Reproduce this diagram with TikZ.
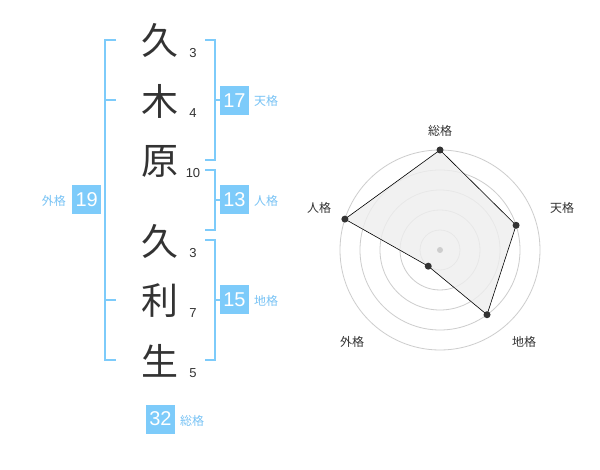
\documentclass[tikz,border=0pt]{standalone}
\usepackage{fontspec}
\newfontfamily\cjk{Noto Sans CJK JP}
\newfontfamily\digits{Liberation Sans}
\definecolor{kblue}{RGB}{125,203,250}
\definecolor{ktext}{RGB}{120,195,245}
\definecolor{kdark}{RGB}{51,51,51}
\definecolor{kgrid}{RGB}{205,205,205}
\definecolor{kfill}{RGB}{238,238,238}
\tikzset{
  kanji/.style={font=\cjk\fontsize{37}{37}\selectfont, text=kdark, inner sep=0pt},
  strokes/.style={font=\digits\fontsize{13}{13}\selectfont, text=kdark, inner sep=0pt},
  bracket/.style={draw=kblue, line width=2pt},
  numbox/.style={fill=kblue, text=white, font=\digits\fontsize{20}{20}\selectfont, minimum width=29pt, minimum height=29pt, inner sep=0pt},
  kaku/.style={font=\cjk\fontsize{12}{12}\selectfont, text=ktext, inner sep=0pt},
  radlabel/.style={font=\cjk\fontsize{12}{12}\selectfont, text=kdark, inner sep=0pt},
  grid/.style={draw=kgrid, line width=0.8pt},
  dot/.style={circle, fill=kdark, minimum size=7pt, inner sep=0pt},
}
\begin{document}
\begin{tikzpicture}[x=1pt,y=-1pt]
\useasboundingbox[fill=white] (0,0) rectangle (600,470);
% name characters
\node[kanji] (c1) at (160,40) {久};
\node[kanji] (c2) at (160,101) {木};
\node[kanji] (c3) at (160,161) {原};
\node[kanji] (c4) at (160,241) {久};
\node[kanji] (c5) at (160,301) {利};
\node[kanji] (c6) at (160,361) {生};
% strokes
\node[strokes] (s1) at (193,53) {3};
\node[strokes] (s2) at (193,113) {4};
\node[strokes] (s3) at (193,173) {10};
\node[strokes] (s4) at (193,253) {3};
\node[strokes] (s5) at (193,313) {7};
\node[strokes] (s6) at (193,373) {5};
% brackets
\draw[bracket] (116,40) -- (105,40) -- (105,360) -- (116,360);
\draw[bracket] (105,100) -- (116,100);
\draw[bracket] (105,300) -- (116,300);
\draw[bracket] (205,40) -- (215,40) -- (215,160) -- (205,160);
\draw[bracket] (215,100) -- (220,100);
\draw[bracket] (205,170) -- (215,170) -- (215,230) -- (205,230);
\draw[bracket] (215,200) -- (220,200);
\draw[bracket] (205,240) -- (215,240) -- (215,360) -- (205,360);
\draw[bracket] (215,300) -- (220,300);
% boxes
\node[numbox] (b17) at (234.5,100.5) {17};
\node[kaku, anchor=west] (t17) at (254,101) {天格};
\node[numbox] (b13) at (234.5,200) {13};
\node[kaku, anchor=west] (t13) at (254,201) {人格};
\node[numbox] (b15) at (234.5,300) {15};
\node[kaku, anchor=west] (t15) at (254,301) {地格};
\node[numbox] (b19) at (86.7,200) {19};
\node[kaku, anchor=east] (t19) at (66,201) {外格};
\node[numbox] (b32) at (160.5,419) {32};
\node[kaku, anchor=west] (t32) at (180,421) {総格};
% radar
\coordinate (o) at (440,250);
\foreach \r in {20,40,60,80,100} \draw[grid] (o) circle[radius=\r];
\path (o) ++(-90:100) coordinate (p1);
\path (o) ++(-18:80) coordinate (p2);
\path (o) ++(54:80) coordinate (p3);
\path (o) ++(126:20) coordinate (p4);
\path (o) ++(198:100) coordinate (p5);
\draw[fill=kfill, fill opacity=0.8, draw=black, line width=0.6pt] (p1) -- (p2) -- (p3) -- (p4) -- (p5) -- cycle;
\node[circle, fill=kgrid, minimum size=6pt, inner sep=0pt] (oc) at (o) {};
\foreach \i in {1,...,5} \node[dot] (d\i) at (p\i) {};
\node[radlabel] (l1) at (440,131) {総格};
\node[radlabel] (l2) at (562,208) {天格};
\node[radlabel] (l3) at (524,342) {地格};
\node[radlabel] (l4) at (352,342) {外格};
\node[radlabel] (l5) at (319,208) {人格};
\end{tikzpicture}
\end{document}
